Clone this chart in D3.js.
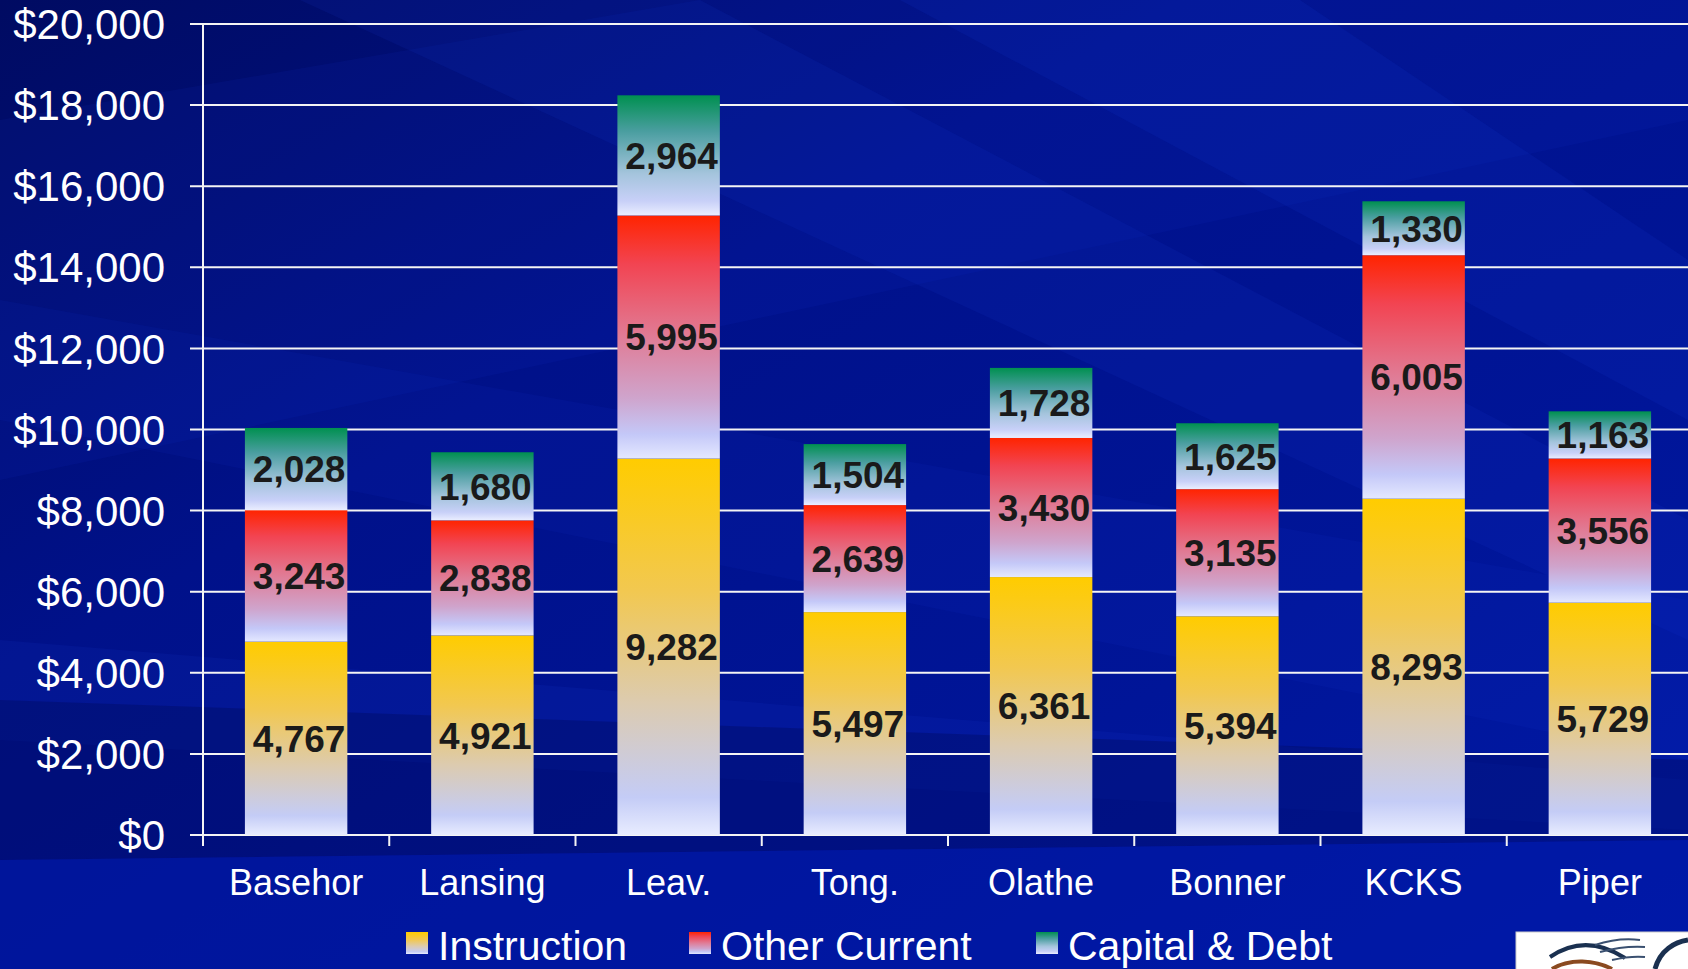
<!DOCTYPE html>
<html><head><meta charset="utf-8">
<script src="https://cdn.jsdelivr.net/npm/d3@7"></script>
<style>
html,body{margin:0;padding:0;overflow:hidden;background:#001080;}
svg{display:block;}
text{font-family:"Liberation Sans",Arial,sans-serif;}
</style></head>
<body>
<svg id="chart" width="1688" height="969"></svg>
<script>
const categories = ["Basehor","Lansing","Leav.","Tong.","Olathe","Bonner","KCKS","Piper"];
const instruction = [4767,4921,9282,5497,6361,5394,8293,5729];
const otherCurrent = [3243,2838,5995,2639,3430,3135,6005,3556];
const capitalDebt = [2028,1680,2964,1504,1728,1625,1330,1163];
const seriesNames = ["Instruction","Other Current","Capital & Debt"];
const yTicks = [0,2000,4000,6000,8000,10000,12000,14000,16000,18000,20000];

const W=1688,H=969;
const svg=d3.select("#chart");
const defs=svg.append("defs");

// background
const bg=defs.append("linearGradient").attr("id","bg").attr("x1","0").attr("y1","0").attr("x2","1").attr("y2","1");
[["0%","#000b62"],["35%","#00118a"],["70%","#001598"],["100%","#001aa8"]].forEach(s=>bg.append("stop").attr("offset",s[0]).attr("stop-color",s[1]));
svg.append("rect").attr("width",W).attr("height",H).attr("fill","url(#bg)");
// diagonal streaks
const streaks=[
 [[0,120],[700,0],[1688,0],[1688,120],[0,480]],
 [[300,0],[700,0],[1688,520],[1688,640]],
 [[0,300],[0,420],[1688,760],[1688,600]],
 [[0,640],[0,740],[1688,830],[1688,780]],
 [[900,0],[1300,0],[1688,260],[1688,420]]
];
const streakOp=[0.08,0.10,0.08,0.10,0.12];
svg.append("g").selectAll("polygon").data(streaks).join("polygon")
  .attr("points",d=>d.map(p=>p.join(",")).join(" "))
  .attr("fill","#1a40e0").attr("opacity",(d,i)=>streakOp[i]);
svg.append("polygon").attr("points","0,700 1688,760 1688,840 0,860").attr("fill","#000a58").attr("opacity",0.35);
svg.append("polygon").attr("points","0,860 1688,840 1688,969 0,969").attr("fill","#0018a8").attr("opacity",0.5);

// gradients for series
const gradStops=[
 [["0%","#ffcc00"],["35%","#f2c850"],["65%","#dccbb0"],["90%","#c4ccf6"],["100%","#e8ecff"]],
 [["0%","#ff2400"],["20%","#f24452"],["50%","#e07c96"],["75%","#cfa4cc"],["90%","#c4c8f8"],["100%","#e4e8ff"]],
 [["0%","#009050"],["30%","#4a9ea0"],["65%","#a4c4dc"],["88%","#c8d0f8"],["100%","#eaeeff"]]
];
gradStops.forEach((st,i)=>{
  const g=defs.append("linearGradient").attr("id","g"+i).attr("x1","0").attr("y1","0").attr("x2","0").attr("y2","1");
  st.forEach(s=>g.append("stop").attr("offset",s[0]).attr("stop-color",s[1]));
});

const x=d3.scaleBand().domain(categories).range([203,1693]).paddingInner(0.45).paddingOuter(0.225);
const y=d3.scaleLinear().domain([0,20000]).range([835,24]);

// gridlines
svg.append("g").selectAll("line").data(yTicks).join("line")
  .attr("x1",190).attr("x2",W).attr("y1",d=>y(d)).attr("y2",d=>y(d))
  .attr("stroke","#f4f4f4").attr("stroke-width",2);
// y axis line
svg.append("line").attr("x1",203).attr("x2",203).attr("y1",y(20000)).attr("y2",845).attr("stroke","#f4f4f4").attr("stroke-width",2);
// y tick labels
svg.append("g").selectAll("text").data(yTicks).join("text")
  .attr("x",165).attr("y",d=>y(d)).attr("dy","0.36em").attr("text-anchor","end")
  .attr("fill","#fff").attr("font-size",42).text(d=>"$"+d3.format(",")(d));

// x ticks at band boundaries
const step=x.step();
const boundaries=categories.map((c,i)=>x(c)-x.paddingInner()*step/2);
svg.append("g").selectAll("line").data(boundaries).join("line")
  .attr("x1",d=>d).attr("x2",d=>d).attr("y1",y(0)).attr("y2",846)
  .attr("stroke","#f4f4f4").attr("stroke-width",2);

// stacked data
const rows=categories.map((c,i)=>({cat:c,v:[instruction[i],otherCurrent[i],capitalDebt[i]]}));
const segs=[];
rows.forEach(r=>{let base=0;r.v.forEach((v,k)=>{segs.push({cat:r.cat,k,y0:base,y1:base+v,v});base+=v;});});

svg.append("g").selectAll("rect").data(segs).join("rect")
  .attr("x",d=>x(d.cat)).attr("width",x.bandwidth())
  .attr("y",d=>y(d.y1)).attr("height",d=>y(d.y0)-y(d.y1))
  .attr("fill",d=>"url(#g"+d.k+")");

svg.append("g").selectAll("text").data(segs).join("text")
  .attr("x",d=>x(d.cat)+x.bandwidth()/2+3).attr("y",d=>y((d.y0+d.y1)/2)).attr("dy","0.36em")
  .attr("text-anchor","middle").attr("font-weight","bold").attr("font-size",37).attr("fill","#1a1a1a")
  .text(d=>d3.format(",")(d.v));

// x labels
svg.append("g").selectAll("text").data(categories).join("text")
  .attr("x",d=>x(d)+x.bandwidth()/2).attr("y",895).attr("text-anchor","middle")
  .attr("fill","#fff").attr("font-size",36).text(d=>d);

// legend
const legX=[406,689,1036];
const lg=svg.append("g").selectAll("g").data(seriesNames).join("g");
lg.append("rect").attr("x",(d,i)=>legX[i]).attr("y",932).attr("width",22).attr("height",22).attr("fill",(d,i)=>"url(#g"+i+")");
lg.append("text").attr("x",(d,i)=>legX[i]+32).attr("y",960).attr("fill","#fff").attr("font-size",41).text(d=>d);

// logo corner
const logo=svg.append("g");
logo.append("rect").attr("x",1516).attr("y",932).attr("width",180).attr("height",40).attr("fill","#fff").attr("stroke","#ccc");
logo.append("path").attr("d","M1550,957 C1575,940 1600,942 1625,958").attr("fill","none").attr("stroke","#1a3050").attr("stroke-width",4);
logo.append("path").attr("d","M1552,969 C1570,958 1595,960 1612,969").attr("fill","none").attr("stroke","#8a4a20").attr("stroke-width",4);
logo.append("path").attr("d","M1595,945 C1610,940 1625,938 1640,940 M1600,952 C1615,948 1630,946 1645,947 M1612,960 C1625,957 1635,956 1645,957").attr("fill","none").attr("stroke","#3a5070").attr("stroke-width",2);
logo.append("path").attr("d","M1655,969 C1660,950 1675,942 1688,940").attr("fill","none").attr("stroke","#1a3050").attr("stroke-width",5);
</script>
</body></html>
